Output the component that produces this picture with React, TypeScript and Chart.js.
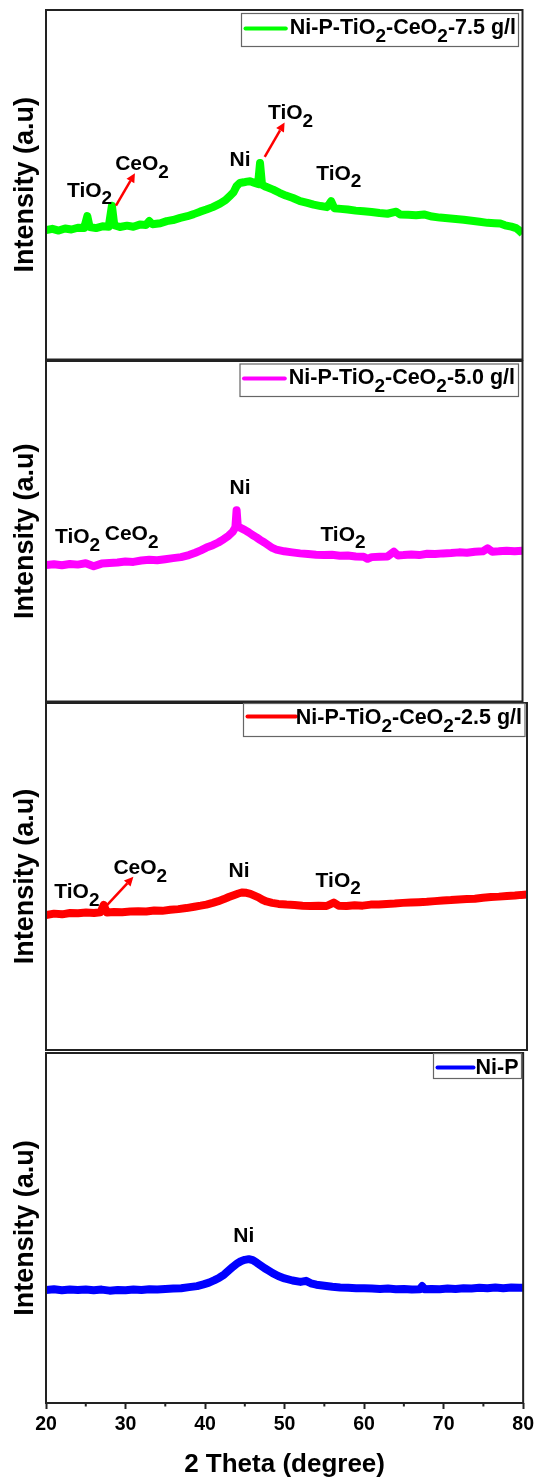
import React, { useEffect, useRef } from "react";
import { Chart, registerables } from "chart.js";
Chart.register(...registerables);

const FONT = '"Liberation Sans", Arial, Helvetica, sans-serif';
const PAGE_W = 538;
const PAGE_H = 1479;

const xMinorTicks = [25, 35, 45, 55, 65, 75];

// ---- Ni-P-TiO2-CeO2-7.5 g/l (green)
const g75X = [20, 20.8, 21.6, 22.4, 23.2, 24.0, 24.8, 25.2, 25.5, 26.3, 27.1, 27.9, 28.3, 28.6, 29.3, 30.2, 31.0, 31.8, 32.6, 33.0, 33.4, 34.4, 35.2, 36.0, 36.9, 37.8, 38.6, 39.4, 40.2, 41.0, 41.9, 42.6, 43.2, 43.6, 44.0, 44.4, 44.9, 45.3, 45.7, 46.2, 46.7, 46.95, 47.2, 47.7, 48.6, 49.4, 50.2, 51.1, 52.0, 52.9, 53.7, 54.6, 55.4, 55.9, 56.3, 57.1, 58.0, 59.0, 60.0, 61.0, 62.0, 63.0, 64.1, 64.6, 65.6, 66.6, 67.6, 68.6, 69.6, 70.6, 71.6, 72.6, 73.6, 74.6, 75.6, 76.5, 77.2, 77.8, 78.6, 79.2, 79.6, 80.0];
const g75Y = [37.0, 37.4, 36.9, 37.5, 37.2, 37.7, 37.6, 41.0, 37.9, 37.6, 38.1, 38.0, 44.0, 38.4, 37.9, 38.3, 38.0, 38.6, 38.5, 39.6, 38.7, 39.0, 39.6, 39.9, 40.5, 41.0, 41.6, 42.3, 42.9, 43.6, 44.6, 45.6, 46.9, 47.8, 49.6, 50.5, 50.7, 50.9, 51.0, 50.6, 50.2, 56.2, 50.0, 49.4, 48.6, 47.7, 46.9, 46.2, 45.3, 44.8, 44.3, 43.9, 43.6, 45.3, 43.3, 43.1, 42.9, 42.6, 42.4, 42.2, 41.9, 41.7, 42.3, 41.5, 41.4, 41.3, 41.5, 40.9, 40.6, 40.4, 40.2, 40.0, 39.7, 39.4, 39.1, 39.0, 38.9, 38.4, 38.0, 37.6, 36.9, 36.0];

// ---- Ni-P-TiO2-CeO2-5.0 g/l (magenta)
const m50X = [20, 21, 22, 23, 24, 25, 26, 27, 28, 29, 30, 31, 32, 33, 34, 35, 36, 37, 38, 38.8, 39.5, 40.2, 41, 41.7, 42.4, 43, 43.5, 43.85, 44.0, 44.15, 44.5, 45, 45.5, 46, 46.5, 47, 47.5, 48, 48.5, 49, 50, 51, 52, 53, 54, 55, 56, 57, 58, 59, 60, 60.5, 61, 62, 63, 63.8, 64.3, 65, 66, 67, 68, 69, 70, 71, 72, 73, 74, 75, 75.6, 76.2, 77, 78, 79, 80];
const m50Y = [40.1, 40.3, 40.0, 40.4, 40.2, 40.6, 39.7, 40.5, 40.7, 40.8, 41.1, 41.0, 41.4, 41.6, 41.5, 41.8, 42.1, 42.4, 43.0, 43.7, 44.4, 45.2, 45.9, 46.7, 47.7, 48.7, 49.8, 51.2, 56.2, 51.4, 51.0, 50.4, 49.7, 48.9, 48.2, 47.4, 46.7, 45.9, 45.1, 44.6, 44.1, 43.8, 43.5, 43.3, 43.1, 43.0, 43.1, 42.8, 42.9, 42.6, 42.5, 41.9, 42.4, 42.5, 42.6, 44.0, 42.9, 43.0, 43.2, 43.0, 43.4, 43.3, 43.5, 43.6, 43.8, 43.7, 44.0, 44.1, 45.0, 44.0, 44.1, 44.3, 44.1, 44.3];

// ---- Ni-P-TiO2-CeO2-2.5 g/l (red)
const r25X = [20, 21, 22, 23, 24, 25, 26, 26.8, 27.2, 27.6, 28.5, 29.5, 30.5, 31.5, 32.5, 33.5, 34.5, 35.5, 36.5, 37.5, 38.5, 39.3, 40, 40.8, 41.5, 42.2, 42.8, 43.5, 44, 44.5, 45, 45.5, 46, 46.5, 47, 47.5, 48.2, 49, 50, 51, 52, 53, 54, 55, 55.9, 56.5, 57.5, 58.5, 59.5, 60.5, 61.5, 62.5, 63.5, 64.5, 65.5, 66.5, 67.5, 68.5, 69.5, 70.5, 71.5, 72.5, 73.5, 74.5, 75.5, 76.5, 77.5, 78.5, 79.3, 80];
const r25Y = [38.9, 39.3, 39.1, 39.5, 39.4, 39.6, 39.5, 39.7, 41.8, 39.6, 39.8, 39.7, 39.9, 40.0, 39.9, 40.2, 40.1, 40.4, 40.6, 40.9, 41.3, 41.6, 41.9, 42.4, 42.9, 43.5, 44.1, 44.7, 45.1, 45.4, 45.3, 45.0, 44.5, 44.0, 43.3, 42.8, 42.4, 42.1, 41.9, 41.8, 41.6, 41.5, 41.6, 41.5, 42.5, 41.6, 41.5, 41.7, 41.6, 41.9, 41.9, 42.1, 42.2, 42.4, 42.5, 42.6, 42.7, 42.9, 43.1, 43.2, 43.4, 43.5, 43.6, 43.9, 44.1, 44.2, 44.4, 44.5, 44.7, 44.8];

// ---- Ni-P (blue)
const npX = [20, 21, 22, 23, 24, 25, 26, 27, 28, 29, 30, 31, 32, 33, 34, 35, 36, 37, 38, 39, 39.8, 40.5, 41.2, 41.8, 42.4, 43, 43.5, 44, 44.5, 45, 45.5, 46, 46.5, 47, 47.5, 48, 48.5, 49.2, 50, 51, 52, 52.7, 53.3, 54, 55, 56, 57, 58, 59, 60, 61, 62, 63, 64, 65, 66, 67, 67.3, 67.6, 68.5, 69.5, 70.5, 71.5, 72.5, 73.5, 74.5, 75.5, 76.5, 77.5, 78.5, 79.5, 80];
const npY = [32.3, 32.5, 32.2, 32.4, 32.3, 32.4, 32.2, 32.4, 32.1, 32.3, 32.2, 32.4, 32.3, 32.5, 32.4, 32.6, 32.7, 32.8, 33.1, 33.4, 33.9, 34.4, 35.1, 35.8, 36.7, 37.9, 38.9, 39.8, 40.5, 40.9, 41.1, 40.8, 40.1, 39.3, 38.5, 37.8, 37.1, 36.3, 35.6, 35.0, 34.6, 34.9, 34.2, 33.8, 33.5, 33.2, 33.0, 32.9, 32.8, 32.8, 32.7, 32.6, 32.7, 32.5, 32.6, 32.4, 32.5, 33.4, 32.5, 32.6, 32.5, 32.7, 32.6, 32.8, 32.7, 32.9, 32.8, 33.0, 32.8, 33.0, 32.9, 32.9];

type Part = [string, boolean];
const TIO2: Part[] = [["TiO", false], ["2", true]];
const CEO2: Part[] = [["CeO", false], ["2", true]];
const NI: Part[] = [["Ni", false]];

const legend75: Part[] = [["Ni-P-TiO", false], ["2", true], ["-CeO", false], ["2", true], ["-7.5 g/l", false]];
const legend50: Part[] = [["Ni-P-TiO", false], ["2", true], ["-CeO", false], ["2", true], ["-5.0 g/l", false]];
const legend25: Part[] = [["Ni-P-TiO", false], ["2", true], ["-CeO", false], ["2", true], ["-2.5 g/l", false]];
const legendNiP: Part[] = [["Ni-P", false]];

// peak labels: anchored in data coordinates (2θ, intensity)
const labels75 = [
  { parts: TIO2, x: 22.64, y: 46.6 },
  { parts: CEO2, x: 28.71, y: 54.2 },
  { parts: NI, x: 43.12, y: 55.4 },
  { parts: TIO2, x: 47.95, y: 68.7 },
  { parts: TIO2, x: 54.03, y: 51.4 },
];
const arrows75 = [
  { x0: 28.81, y0: 44.0, x1: 31.2, y1: 53.3 },
  { x0: 47.54, y0: 58.0, x1: 50.04, y1: 67.8 },
];
const labels50 = [
  { parts: TIO2, x: 21.13, y: 46.5 },
  { parts: CEO2, x: 27.4, y: 47.4 },
  { parts: NI, x: 43.12, y: 60.9 },
  { parts: TIO2, x: 54.55, y: 47.2 },
];
const labels25 = [
  { parts: TIO2, x: 21.04, y: 43.7 },
  { parts: CEO2, x: 28.41, y: 50.7 },
  { parts: NI, x: 42.78, y: 49.8 },
  { parts: TIO2, x: 53.63, y: 47.1 },
];
const arrows25 = [{ x0: 27.12, y0: 40.5, x1: 30.9, y1: 49.9 }];
const labelsNiP = [{ parts: NI, x: 43.55, y: 46.1 }];

type Legend = { parts: Part[]; boxL: number; boxT: number; boxR: number; boxB: number; textEnd: number; baseline: number; lineY: number; lineGap: number };

type PanelCfg = {
  xs: number[];
  ys: number[];
  color: string;
  area: { l: number; t: number; r: number; b: number };
  showX: boolean;
  legend: Legend;
  labels: { parts: Part[]; x: number; y: number }[];
  arrows: { x0: number; y0: number; x1: number; y1: number }[];
};

const panels: PanelCfg[] = [
  {
    xs: g75X, ys: g75Y, color: "#00ff00",
    area: { l: 46, t: 10, r: 522.5, b: 359.5 }, showX: false,
    legend: { parts: legend75, boxL: 241.5, boxT: 13.5, boxR: 518.5, boxB: 46.5, textEnd: 516, baseline: 33.5, lineY: 28.5, lineGap: 4 },
    labels: labels75, arrows: arrows75,
  },
  {
    xs: m50X, ys: m50Y, color: "#ff00ff",
    area: { l: 46, t: 361, r: 522.5, b: 701.5 }, showX: false,
    legend: { parts: legend50, boxL: 240, boxT: 364, boxR: 518.5, boxB: 396.5, textEnd: 515, baseline: 384, lineY: 378.5, lineGap: 4 },
    labels: labels50, arrows: [],
  },
  {
    xs: r25X, ys: r25Y, color: "#ff0000",
    area: { l: 46, t: 703, r: 527, b: 1050 }, showX: false,
    legend: { parts: legend25, boxL: 243.5, boxT: 703.5, boxR: 525, boxB: 736.5, textEnd: 522, baseline: 723.5, lineY: 716.5, lineGap: 0 },
    labels: labels25, arrows: arrows25,
  },
  {
    xs: npX, ys: npY, color: "#0000ff",
    area: { l: 46, t: 1053, r: 527, b: 1403 }, showX: true,
    legend: { parts: legendNiP, boxL: 433.5, boxT: 1053.5, boxR: 521.5, boxB: 1078.5, textEnd: 518.5, baseline: 1073.5, lineY: 1067.5, lineGap: 2 },
    labels: labelsNiP, arrows: [],
  },
];

function partsWidth(ctx: CanvasRenderingContext2D, parts: Part[], size: number, subSize: number) {
  let total = 0;
  const widths = parts.map(([t, s]) => {
    ctx.font = `bold ${s ? subSize : size}px ${FONT}`;
    const w = ctx.measureText(t).width;
    total += w;
    return w;
  });
  return { total, widths };
}

function drawParts(ctx: CanvasRenderingContext2D, parts: Part[], x: number, baseline: number, size: number, subSize: number, subDy: number) {
  const { widths } = partsWidth(ctx, parts, size, subSize);
  ctx.textAlign = "left";
  ctx.textBaseline = "alphabetic";
  ctx.fillStyle = "#000";
  let cx = x;
  parts.forEach(([t, s], i) => {
    ctx.font = `bold ${s ? subSize : size}px ${FONT}`;
    ctx.fillText(t, cx, s ? baseline + subDy : baseline);
    cx += widths[i];
  });
}

function drawArrow(ctx: CanvasRenderingContext2D, x0: number, y0: number, x1: number, y1: number) {
  const ang = Math.atan2(y1 - y0, x1 - x0);
  const head = 9;
  const half = 4.5;
  const bx = x1 - head * Math.cos(ang);
  const by = y1 - head * Math.sin(ang);
  ctx.save();
  ctx.strokeStyle = "#ff0000";
  ctx.fillStyle = "#ff0000";
  ctx.lineWidth = 2.5;
  ctx.beginPath();
  ctx.moveTo(x0, y0);
  ctx.lineTo(bx, by);
  ctx.stroke();
  ctx.beginPath();
  ctx.moveTo(x1, y1);
  ctx.lineTo(bx + half * Math.sin(ang), by - half * Math.cos(ang));
  ctx.lineTo(bx - half * Math.sin(ang), by + half * Math.cos(ang));
  ctx.closePath();
  ctx.fill();
  ctx.restore();
}

function overlayPlugin(cfg: PanelCfg) {
  return {
    id: "overlay",
    afterDraw(chart: any) {
      const ctx: CanvasRenderingContext2D = chart.ctx;
      const { left, top, right, bottom } = chart.chartArea;
      const xs = chart.scales.x;
      const ys = chart.scales.y;
      ctx.save();
      // frame
      ctx.strokeStyle = "#222";
      ctx.lineWidth = 2;
      ctx.strokeRect(left, top, right - left, bottom - top);

      // minor ticks on the labelled axis
      if (cfg.showX) {
        ctx.beginPath();
        xMinorTicks.forEach((v) => {
          const px = xs.getPixelForValue(v);
          ctx.moveTo(px, bottom);
          ctx.lineTo(px, bottom + 3.5);
        });
        ctx.lineWidth = 2;
        ctx.strokeStyle = "#222";
        ctx.stroke();
      }

      // legend
      const lg = cfg.legend;
      ctx.fillStyle = "#fff";
      ctx.fillRect(lg.boxL, lg.boxT, lg.boxR - lg.boxL, lg.boxB - lg.boxT);
      ctx.strokeStyle = "#666";
      ctx.lineWidth = 1.2;
      ctx.strokeRect(lg.boxL, lg.boxT, lg.boxR - lg.boxL, lg.boxB - lg.boxT);
      const { total } = partsWidth(ctx, lg.parts, 21.5, 19);
      const tx = lg.textEnd - total;
      ctx.strokeStyle = cfg.color;
      ctx.lineWidth = 4;
      ctx.lineCap = "round";
      ctx.beginPath();
      ctx.moveTo(lg.boxL + 4, lg.lineY);
      ctx.lineTo(tx - lg.lineGap, lg.lineY);
      ctx.stroke();
      ctx.lineCap = "butt";
      drawParts(ctx, lg.parts, tx, lg.baseline, 21.5, 19, 8.4);

      // peak labels
      cfg.labels.forEach((lb) => {
        drawParts(ctx, lb.parts, xs.getPixelForValue(lb.x), ys.getPixelForValue(lb.y), 21, 19, 7.5);
      });
      cfg.arrows.forEach((a) => {
        drawArrow(ctx, xs.getPixelForValue(a.x0), ys.getPixelForValue(a.y0), xs.getPixelForValue(a.x1), ys.getPixelForValue(a.y1));
      });
      ctx.restore();
    },
  };
}

function Panel({ cfg }: { cfg: PanelCfg }) {
  const ref = useRef<HTMLCanvasElement>(null);
  useEffect(() => {
    const canvas = ref.current;
    if (!canvas) return;
    const chart = new Chart(canvas, {
      type: "line",
      data: {
        datasets: [
          {
            data: cfg.xs.map((x, i) => ({ x, y: cfg.ys[i] })),
            borderColor: cfg.color,
            backgroundColor: cfg.color,
            borderWidth: 8,
            pointRadius: 0,
            tension: 0,
            fill: false,
            borderJoinStyle: "round",
          },
        ],
      },
      options: {
        responsive: false,
        maintainAspectRatio: false,
        animation: false,
        devicePixelRatio: 1,
        events: [],
        layout: {
          padding: {
            left: 0,
            top: cfg.area.t,
            right: PAGE_W - cfg.area.r,
            bottom: cfg.showX ? 0 : PAGE_H - cfg.area.b,
          },
        },
        plugins: { legend: { display: false }, tooltip: { enabled: false } },
        scales: {
          x: {
            type: "linear",
            min: 20,
            max: 80,
            display: cfg.showX,
            afterFit: (s: any) => {
              s.height = cfg.showX ? PAGE_H - cfg.area.b : 0;
            },
            ticks: {
              stepSize: 10,
              autoSkip: false,
              maxRotation: 0,
              padding: 4,
              color: "#000",
              font: { family: FONT, size: 19.5, weight: "bold" },
            },
            grid: {
              display: true,
              drawOnChartArea: false,
              drawTicks: true,
              tickLength: 6,
              tickWidth: 2,
              tickColor: "#222",
            },
            border: { display: false },
            title: {
              display: true,
              text: "2 Theta (degree)",
              color: "#000",
              font: { family: FONT, size: 26, weight: "bold", lineHeight: 1 },
              padding: { top: 0, bottom: 1 },
            },
          },
          y: {
            type: "linear",
            min: 0,
            max: 100,
            display: true,
            afterFit: (s: any) => {
              s.width = cfg.area.l;
            },
            ticks: { display: false },
            grid: { display: false },
            border: { display: false },
            title: {
              display: true,
              text: "Intensity (a.u)",
              color: "#000",
              font: { family: FONT, size: 27, weight: "bold", lineHeight: 1.2 },
              padding: { top: 9.5, bottom: 0 },
            },
          },
        },
      } as any,
      plugins: [overlayPlugin(cfg)],
    });
    return () => chart.destroy();
  }, [cfg]);
  return (
    <canvas
      ref={ref}
      width={PAGE_W}
      height={PAGE_H}
      style={{ position: "absolute", left: 0, top: 0, width: PAGE_W, height: PAGE_H }}
    />
  );
}

export default function App() {
  useEffect(() => {
    document.body.style.margin = "0";
    document.body.style.background = "#fff";
  }, []);
  return (
    <div style={{ position: "relative", width: PAGE_W, height: PAGE_H, background: "#fff", overflow: "hidden" }}>
      {panels.map((p, i) => (
        <Panel key={i} cfg={p} />
      ))}
    </div>
  );
}
